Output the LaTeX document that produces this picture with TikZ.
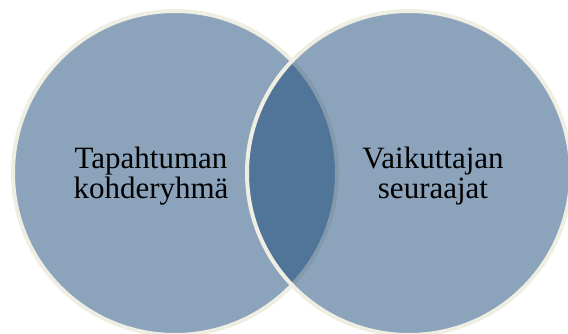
\documentclass[tikz,border=0pt]{standalone}
\usepackage{fontspec}
\setmainfont{Liberation Serif}
\usepackage{tikz}
\definecolor{vennblue}{RGB}{20,67,118}
\definecolor{vennrim}{RGB}{238,238,227}

\begin{document}
\begin{tikzpicture}[x=1pt,y=-1pt,
    venn/.style={circle,minimum size=324pt,inner sep=0pt,fill=vennblue,fill opacity=0.49,draw=vennrim,draw opacity=1,line width=4pt},
    label text/.style={align=center,inner sep=0pt,font=\fontsize{31}{30}\selectfont,text=black}]
  \useasboundingbox (0,0) rectangle (568,334);

  \node[venn]       (target)    at (175,173) {};
  \node[venn]       (followers) at (409,173) {};

  \node[label text] (targetlbl)    at (151,176) {Tapahtuman\\kohderyhmä};
  \node[label text] (followerslbl) at (433,176) {Vaikuttajan\\seuraajat};
\end{tikzpicture}
\end{document}
